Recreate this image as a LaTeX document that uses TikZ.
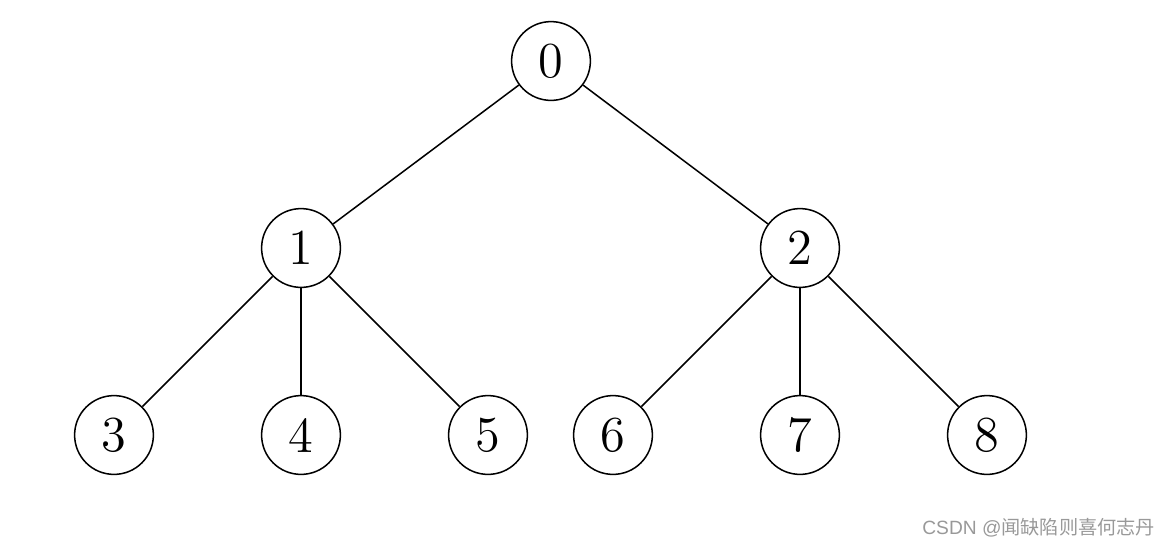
\documentclass[tikz,border=0pt]{standalone}
\usepackage{fontspec}
\newfontfamily\wmsans{Liberation Sans}
\newfontfamily\cjk{Noto Sans CJK SC}
\begin{document}
\begin{tikzpicture}[x=0.25pt,y=-0.25pt,
  treenode/.style={draw,circle,line width=0.38pt,minimum size=19.7pt,inner sep=0pt,font=\fontsize{12.6}{14}\selectfont},
  edge/.style={line width=0.38pt}]
\useasboundingbox (0,0) rectangle (1171,548);
\node[treenode] (n0) at (551,61) {0};
\node[treenode] (n1) at (301,248) {1};
\node[treenode] (n2) at (800,248) {2};
\node[treenode] (n3) at (114,435) {3};
\node[treenode] (n4) at (301,435) {4};
\node[treenode] (n5) at (488,435) {5};
\node[treenode] (n6) at (613,435) {6};
\node[treenode] (n7) at (800,435) {7};
\node[treenode] (n8) at (987,435) {8};
\draw[edge] (n0) -- (n1);
\draw[edge] (n0) -- (n2);
\draw[edge] (n1) -- (n3);
\draw[edge] (n1) -- (n4);
\draw[edge] (n1) -- (n5);
\draw[edge] (n2) -- (n6);
\draw[edge] (n2) -- (n7);
\draw[edge] (n2) -- (n8);
\node[anchor=east,inner sep=0pt,text=black!40,font=\fontsize{4.8}{6}\selectfont] (wm) at (1156,528) {\wmsans CSDN @\cjk 闻缺陷则喜何志丹};
\end{tikzpicture}
\end{document}
